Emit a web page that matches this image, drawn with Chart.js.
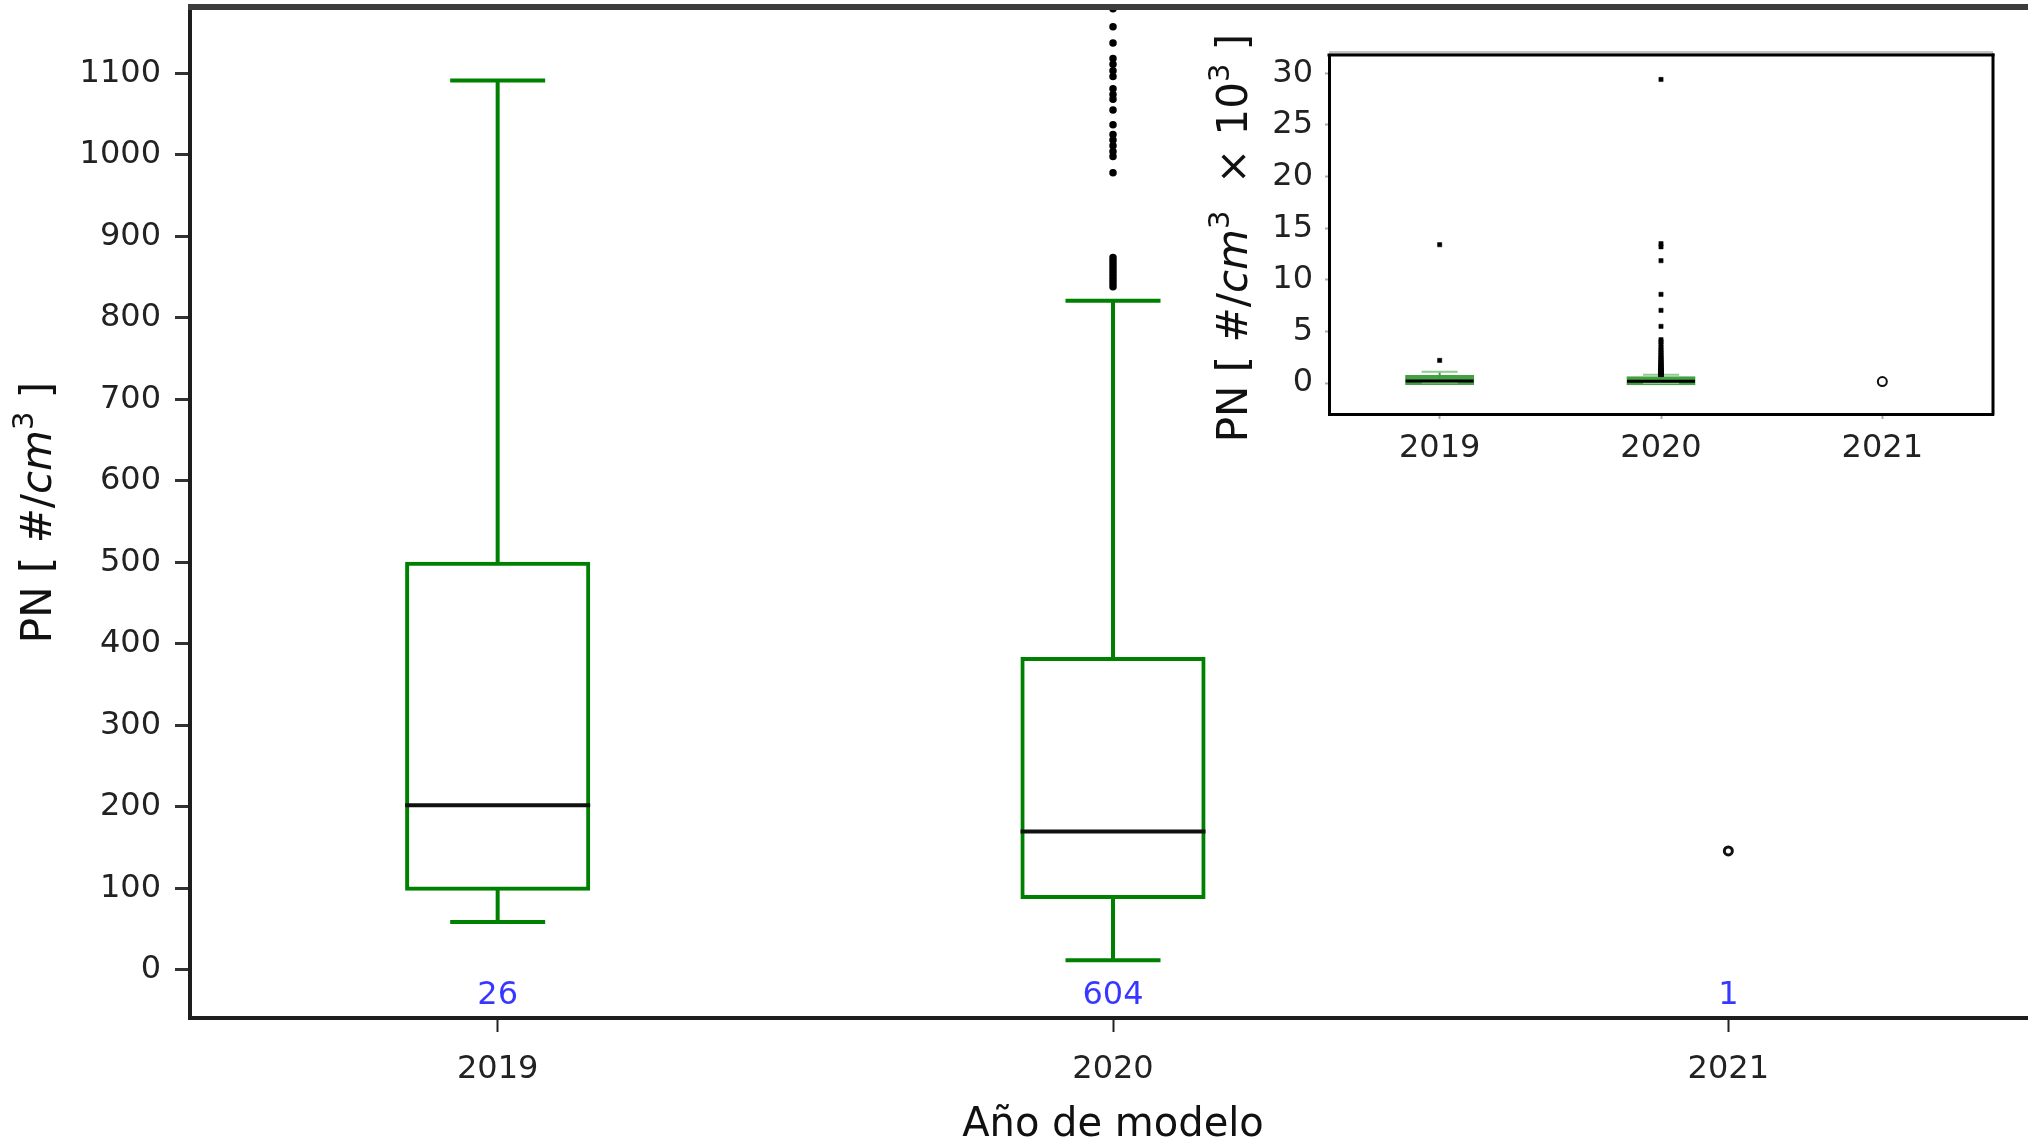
<!DOCTYPE html>
<html>
<head>
<meta charset="utf-8">
<title>PN por año de modelo</title>
<script src="https://cdn.jsdelivr.net/npm/chart.js@4.4.1/dist/chart.umd.min.js"></script>
<style>
  html, body { margin: 0; padding: 0; background: #ffffff; }
  #wrap { position: relative; width: 2028px; height: 1144px; overflow: hidden; background: #ffffff; }
  #main { position: absolute; left: 0; top: 0; }
  #inset { position: absolute; left: 1190px; top: 0; }
</style>
</head>
<body>
<div id="wrap">
  <canvas id="main" width="2036" height="1146"></canvas>
  <canvas id="inset" width="838" height="480"></canvas>
</div>
<script>
// Model years and number of vehicles per year
const years = ['2019', '2020', '2021'];
const sampleCounts = [26, 604, 1];

// Box statistics, PN in #/cm3
const q1Values = [99, 89, null];
const medianValues = [202, 170, null];
const q3Values = [499, 382, null];
const whiskerLowValues = [59, 12, null];
const whiskerHighValues = [1091, 821, null];
const singleValues = [null, null, 146];

// Values beyond the whiskers, PN in #/cm3
const outliers2019 = [2200, 13400];
const outliers2020 = [838, 842, 846, 850, 854, 858, 862, 866, 870, 874,
  978, 998, 1004, 1011, 1018, 1025, 1037, 1055, 1068, 1074, 1081,
  1096, 1103, 1111, 1118, 1137, 1157, 1179,
  1210, 1260, 1330, 1400, 1480, 1560, 1650, 1740, 1830, 1930, 2040,
  2150, 2270, 2400, 2540, 2700, 2870, 3050, 3250, 3480, 3750, 4000, 4200,
  5500, 7050, 8600, 11850, 13200, 13500, 29400];

// Axis ticks
const mainYTicks = [0, 100, 200, 300, 400, 500, 600, 700, 800, 900, 1000, 1100];
const insetYTicks = [0, 5, 10, 15, 20, 25, 30];
const insetDivisor = 1000;     // inset shows PN x 10^3
const countLabelLevel = -32;   // where the sample counts sit on the main y axis

const FONT = '"DejaVu Sans"';
const GREEN = '#008000';

Chart.defaults.font.family = FONT;
Chart.defaults.color = '#222222';

function boxDatasets(div, st) {
  const v = x => (x == null ? null : x / div);
  const idx = years.map((_, i) => i);
  const has = i => q1Values[i] != null;
  const caps = [];
  idx.filter(has).forEach(i => {
    caps.push({ x: years[i], y: v(whiskerHighValues[i]) });
    caps.push({ x: years[i], y: v(whiskerLowValues[i]) });
  });
  const fliers = [
    ...outliers2019.map(o => ({ x: '2019', y: o / div })),
    ...outliers2020.map(o => ({ x: '2020', y: o / div }))
  ];
  return [
    {
      type: 'scatter', label: 'mediana',
      data: idx.filter(has).map(i => ({ x: years[i], y: v(medianValues[i]) })),
      pointStyle: 'line', pointRadius: st.medHalf, pointBorderWidth: st.medLine,
      pointBorderColor: st.medColor, pointBackgroundColor: st.medColor
    },
    {
      type: 'scatter', label: 'atípicos', data: fliers,
      pointStyle: st.flierStyle, pointRadius: st.flierR,
      pointBackgroundColor: '#000000', pointBorderColor: '#000000', pointBorderWidth: st.flierBorder
    },
    {
      type: 'scatter', label: 'único',
      data: idx.filter(i => singleValues[i] != null).map(i => ({ x: years[i], y: v(singleValues[i]) })),
      pointStyle: 'circle', pointRadius: st.singleR,
      pointBackgroundColor: 'rgba(255,255,255,0)', pointBorderColor: '#111111', pointBorderWidth: st.singleBorder
    },
    {
      type: 'scatter', label: 'extremos', data: caps,
      pointStyle: 'line', pointRadius: st.capHalf, pointBorderWidth: st.capLine,
      pointBorderColor: st.capColor, pointBackgroundColor: st.capColor
    },
    {
      type: 'bar', label: 'bigote superior',
      data: idx.map(i => (has(i) ? [v(q3Values[i]), v(whiskerHighValues[i])] : null)),
      backgroundColor: st.whiskerColor, borderWidth: 0, barThickness: st.whiskerW,
      grouped: false, inflateAmount: 0
    },
    {
      type: 'bar', label: 'bigote inferior',
      data: idx.map(i => (has(i) ? [v(whiskerLowValues[i]), v(q1Values[i])] : null)),
      backgroundColor: st.whiskerColor, borderWidth: 0, barThickness: st.whiskerW,
      grouped: false, inflateAmount: 0
    },
    {
      type: 'bar', label: 'caja',
      data: idx.map(i => (has(i) ? [v(q1Values[i]), v(q3Values[i])] : null)),
      backgroundColor: st.boxFill, borderColor: st.boxColor, borderWidth: st.boxLine,
      borderSkipped: false, inflateAmount: st.boxInflate,
      barPercentage: st.boxPct, categoryPercentage: 1, grouped: false
    }
  ];
}

// Rotated axis title made of runs with their own font and baseline shift
function drawVerticalRich(ctx, runs, cx, cy, color) {
  ctx.save();
  ctx.translate(cx, cy);
  ctx.rotate(-Math.PI / 2);
  ctx.fillStyle = color;
  ctx.textBaseline = 'alphabetic';
  ctx.textAlign = 'left';
  let total = 0;
  runs.forEach(r => { ctx.font = r.font; r.w = ctx.measureText(r.text).width; total += r.w; });
  let x = -total / 2;
  runs.forEach(r => {
    ctx.font = r.font;
    ctx.fillText(r.text, x, r.base);
    x += r.w;
  });
  ctx.restore();
}

function unitRuns(size, withScale) {
  const n = `${size}px ${FONT}`;
  const it = `italic ${size}px ${FONT}`;
  const sup = `${Math.round(size * 0.7)}px ${FONT}`;
  const base = size * 0.36;
  const supBase = base - size * 0.42;
  const runs = [
    { text: 'PN [ ', font: n, base },
    { text: '#/', font: n, base },
    { text: 'cm', font: it, base },
    { text: '3', font: sup, base: supBase }
  ];
  if (withScale) {
    runs.push({ text: '  × 10', font: n, base });
    runs.push({ text: '3', font: sup, base: supBase });
  }
  runs.push({ text: ' ]', font: n, base });
  return runs;
}

const plainTick = value => String(value);

// Fixed axis box sizes, without the extra room Chart.js keeps for edge labels
function fixedHeight(h) {
  return s => { s.height = h; s.paddingLeft = 0; s.paddingRight = 0; s.paddingTop = 0; s.paddingBottom = 0; };
}
function fixedWidth(w) {
  return s => { s.width = w; s.paddingLeft = 0; s.paddingRight = 0; s.paddingTop = 0; s.paddingBottom = 0; };
}

// ---------- main chart ----------
const mainDecor = {
  id: 'mainDecor',
  afterDraw(chart) {
    const { ctx, chartArea, scales } = chart;
    // top frame line
    ctx.save();
    ctx.fillStyle = '#3c3c3c';
    ctx.fillRect(chartArea.left - 2, chartArea.top - 3, chartArea.right - chartArea.left + 2, 6);
    // sample counts under each year
    ctx.fillStyle = 'rgba(20,20,255,0.85)';
    ctx.font = `32px ${FONT}`;
    ctx.textAlign = 'center';
    ctx.textBaseline = 'middle';
    const yPix = scales.y.getPixelForValue(countLabelLevel);
    years.forEach((yr, i) => {
      ctx.fillText(String(sampleCounts[i]), scales.x.getPixelForValue(i), yPix);
    });
    ctx.restore();
    // y axis title
    drawVerticalRich(ctx, unitRuns(42, false), chartArea.left - 154, (chartArea.top + chartArea.bottom) / 2, '#111111');
  }
};

new Chart(document.getElementById('main'), {
  data: {
    labels: years,
    datasets: boxDatasets(1, {
      medHalf: 92.5, medLine: 4, medColor: '#111111',
      flierStyle: 'circle', flierR: 3, flierBorder: 1.5,
      singleR: 4, singleBorder: 3,
      capHalf: 47.5, capLine: 4, capColor: GREEN,
      whiskerColor: GREEN, whiskerW: 4,
      boxFill: 'rgba(0,0,0,0)', boxColor: GREEN, boxLine: 1, boxInflate: 1.5, boxPct: 0.296
    })
  },
  options: {
    responsive: false,
    animation: false,
    events: [],
    layout: { autoPadding: false, padding: { top: 7, left: 0, right: 0, bottom: 0 } },
    plugins: { legend: { display: false }, tooltip: { enabled: false } },
    scales: {
      x: {
        type: 'category', offset: true,
        grid: { display: true, offset: false, drawOnChartArea: false, drawTicks: true, tickLength: 14, tickWidth: 2, tickColor: '#222222' },
        border: { display: true, color: '#1e1e1e', width: 4 },
        ticks: { padding: 18, font: { size: 32 }, color: '#222222' },
        title: { display: true, text: 'Año de modelo', font: { size: 40, lineHeight: 1 }, color: '#111111', padding: 0 },
        afterFit: fixedHeight(128)
      },
      y: {
        type: 'linear', min: -58.9, max: 1181.3,
        afterBuildTicks(s) { s.ticks = mainYTicks.map(v => ({ value: v })); },
        grid: { display: true, drawOnChartArea: false, drawTicks: true, tickLength: 15, tickWidth: 3, tickColor: '#333333' },
        border: { display: true, color: '#1e1e1e', width: 4 },
        ticks: { padding: 14, font: { size: 32 }, color: '#222222', callback: plainTick },
        afterFit: fixedWidth(190)
      }
    }
  },
  plugins: [mainDecor]
});

// ---------- inset chart (PN x 10^3) ----------
const insetDecor = {
  id: 'insetDecor',
  beforeDraw(chart) {
    const { ctx, chartArea } = chart;
    ctx.save();
    ctx.fillStyle = '#ffffff';
    ctx.fillRect(chartArea.left, chartArea.top, chartArea.right - chartArea.left, chartArea.bottom - chartArea.top);
    ctx.restore();
  },
  afterDraw(chart) {
    const { ctx, chartArea } = chart;
    ctx.save();
    ctx.fillStyle = '#c4c4c4';
    ctx.fillRect(chartArea.left, chartArea.top - 4, chartArea.right - chartArea.left, 3);
    ctx.fillStyle = '#000000';
    ctx.fillRect(chartArea.left - 1.5, chartArea.top - 1.5, chartArea.right - chartArea.left + 3, 3);
    ctx.fillRect(chartArea.right - 1.5, chartArea.top - 1.5, 3, chartArea.bottom - chartArea.top + 3);
    ctx.restore();
    drawVerticalRich(ctx, unitRuns(42, true), chartArea.left - 97, 238, '#111111');
  }
};

new Chart(document.getElementById('inset'), {
  data: {
    labels: years,
    datasets: boxDatasets(insetDivisor, {
      medHalf: 34, medLine: 3, medColor: '#000000',
      flierStyle: 'rect', flierR: 3, flierBorder: 0.5,
      singleR: 4.5, singleBorder: 2,
      capHalf: 18, capLine: 2, capColor: '#8ccc8c',
      whiskerColor: '#3d9c3d', whiskerW: 2,
      boxFill: '#43a043', boxColor: '#43a043', boxLine: 1, boxInflate: 3, boxPct: 0.285
    })
  },
  options: {
    responsive: false,
    animation: false,
    events: [],
    layout: { autoPadding: false, padding: { top: 55, left: 0, right: 35, bottom: 0 } },
    plugins: { legend: { display: false }, tooltip: { enabled: false } },
    scales: {
      x: {
        type: 'category', offset: true,
        grid: { display: true, offset: false, drawOnChartArea: false, drawTicks: true, tickLength: 5, tickWidth: 2, tickColor: '#aaaaaa' },
        border: { display: true, color: '#000000', width: 3 },
        ticks: { padding: 10, font: { size: 32 }, color: '#222222' },
        afterFit: fixedHeight(66)
      },
      y: {
        type: 'linear', min: -2.99, max: 31.77,
        afterBuildTicks(s) { s.ticks = insetYTicks.map(v => ({ value: v })); },
        grid: { display: true, drawOnChartArea: false, drawTicks: true, tickLength: 4, tickWidth: 2, tickColor: '#aaaaaa' },
        border: { display: true, color: '#000000', width: 3 },
        ticks: { padding: 12, font: { size: 32 }, color: '#222222', callback: plainTick },
        afterFit: fixedWidth(139)
      }
    }
  },
  plugins: [insetDecor]
});
</script>
</body>
</html>
